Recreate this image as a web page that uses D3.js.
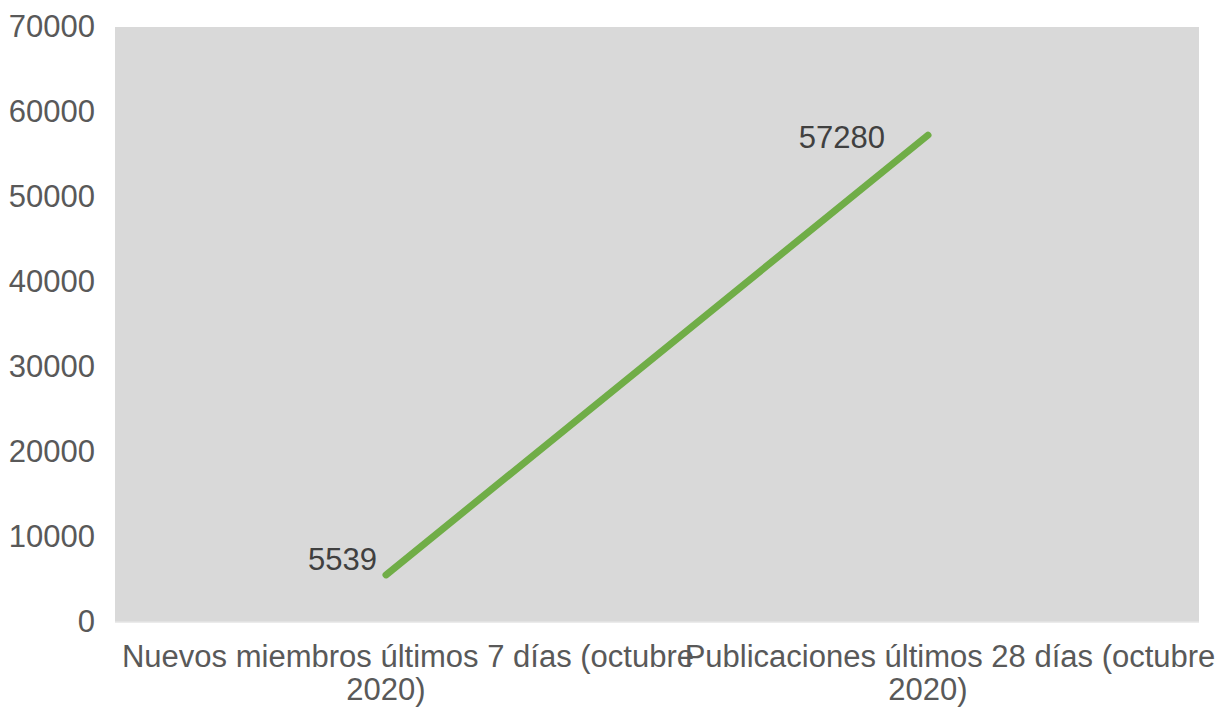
<!DOCTYPE html>
<html>
<head>
<meta charset="utf-8">
<script src="https://cdn.jsdelivr.net/npm/d3@7"></script>
<style>
    body { margin: 0; background: #fff; }
    svg { display: block; font-family: "Liberation Sans", Arial, sans-serif; }
</style>
</head>
<body>
<svg id="chart"></svg>
<script>
// Chart data
const categories = [
    "Nuevos miembros últimos 7 días (octubre 2020)",
    "Publicaciones últimos 28 días (octubre 2020)"
];
const categoryLines = [
    ["Nuevos miembros últimos 7 días (octubre", "2020)"],
    ["Publicaciones últimos 28 días (octubre", "2020)"]
];
const values = [5539, 57280];
const yTicks = [0, 10000, 20000, 30000, 40000, 50000, 60000, 70000];

// label placement tweaks (px, relative to point), as Excel placed them
const labelShift = [[-9, -16], [-43, 2]];

const W = 1219, H = 708;
const margin = { top: 27, right: 20, bottom: 86, left: 115 };
const width = W - margin.left - margin.right;
const height = H - margin.top - margin.bottom;
const fontSize = "31px";

const svg = d3.select("#chart").attr("width", W).attr("height", H);
const g = svg.append("g").attr("transform", `translate(${margin.left},${margin.top})`);

const x = d3.scaleBand().domain(categories).range([0, width]);
const y = d3.scaleLinear().domain([0, 70000]).range([height, 0]);

// Plot area background
g.append("rect")
    .attr("width", width)
    .attr("height", height)
    .attr("fill", "#d9d9d9");

g.append("line")
    .attr("x1", 0).attr("x2", width)
    .attr("y1", height).attr("y2", height)
    .attr("stroke", "#e4e4e4")
    .attr("stroke-width", 1.5);

// Y axis
const yAxis = g.append("g")
    .call(d3.axisLeft(y).tickValues(yTicks).tickSize(0).tickPadding(20).tickFormat(d3.format("d")));
yAxis.select(".domain").remove();
yAxis.selectAll("text")
    .attr("fill", "#595959")
    .style("font-size", fontSize);

// X axis labels
const xAxis = g.append("g").attr("transform", `translate(0,${height})`);
categories.forEach((c, i) => {
    const cx = x(c) + x.bandwidth() / 2;
    const t = xAxis.append("text")
        .attr("y", 45)
        .attr("text-anchor", "middle")
        .attr("fill", "#595959")
        .style("font-size", fontSize);
    categoryLines[i].forEach((line, j) => {
        t.append("tspan")
            .attr("x", j === 0 ? cx + 22 : cx)
            .attr("dy", j === 0 ? 0 : 33)
            .text(line);
    });
});

// Line
const pts = categories.map((c, i) => ({ c, v: values[i], i }));
const line = d3.line()
    .x(d => x(d.c) + x.bandwidth() / 2)
    .y(d => y(d.v));

g.append("path")
    .datum(pts)
    .attr("d", line)
    .attr("fill", "none")
    .attr("stroke", "#70ad47")
    .attr("stroke-width", 7)
    .attr("stroke-linecap", "round");

// Data labels
g.selectAll(".label")
    .data(pts)
    .enter().append("text")
    .attr("class", "label")
    .attr("x", d => x(d.c) + x.bandwidth() / 2 + labelShift[d.i][0])
    .attr("y", d => y(d.v) + labelShift[d.i][1])
    .attr("dy", "0.35em")
    .attr("text-anchor", "end")
    .attr("fill", "#404040")
    .style("font-size", fontSize)
    .text(d => d.v);
</script>
</body>
</html>
